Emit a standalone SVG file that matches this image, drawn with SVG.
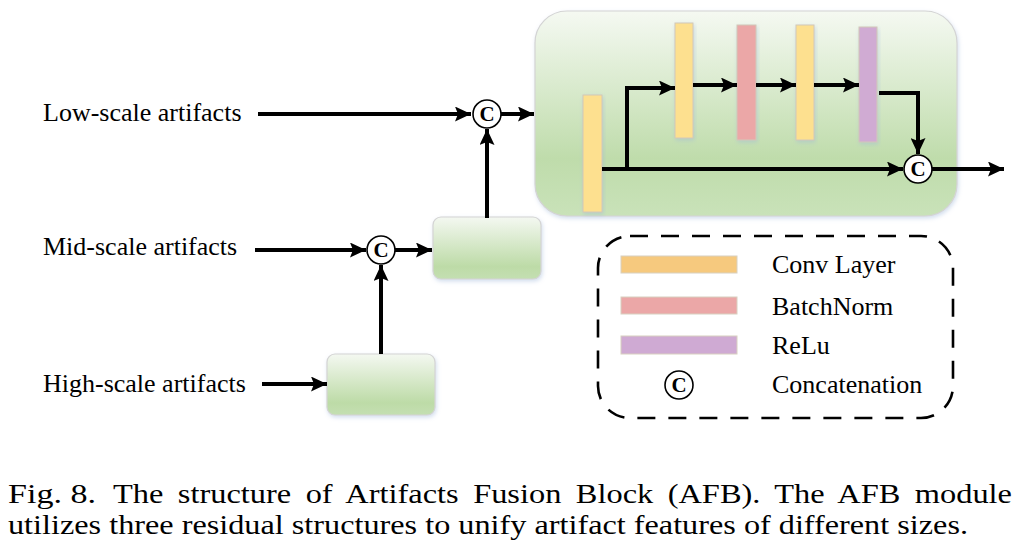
<svg xmlns="http://www.w3.org/2000/svg" width="1024" height="556" viewBox="0 0 1024 556">
<defs>
<linearGradient id="gBig" x1="0" y1="0" x2="0" y2="1">
<stop offset="0" stop-color="#f5f9f2"/>
<stop offset="0.72" stop-color="#bfdcab"/>
<stop offset="1" stop-color="#c9e2b9"/>
</linearGradient>
<linearGradient id="gSmall" x1="0" y1="0" x2="0" y2="1">
<stop offset="0" stop-color="#f4f8f1"/>
<stop offset="0.8" stop-color="#bddba7"/>
<stop offset="1" stop-color="#c4dfb2"/>
</linearGradient>
<filter id="sh" x="-20%" y="-20%" width="140%" height="140%">
<feDropShadow dx="1" dy="2" stdDeviation="2" flood-color="#9db6d9" flood-opacity="0.45"/>
</filter>
<marker id="ah" markerUnits="userSpaceOnUse" markerWidth="17" markerHeight="15" refX="16" refY="7.5" orient="auto">
<path d="M0,0 L16,7.5 L0,15 L3,7.5 Z" fill="#000"/>
</marker>
</defs>
<style>
.lbl{font-family:"Liberation Serif","Times New Roman",serif;font-size:26px;fill:#000}
.cap{font-family:"Liberation Serif","Times New Roman",serif;font-size:28px;fill:#000}
.ct{font-family:"Liberation Serif","Times New Roman",serif;font-size:21px;font-weight:bold;fill:#000;text-anchor:middle}
.cc{fill:#fff;stroke:#000;stroke-width:1.6}
.ln{fill:none;stroke:#000;stroke-width:4}
.box{stroke:#d4d4d4;stroke-width:1.2;filter:url(#sh)}
.bar{stroke:#d2c8b8;stroke-width:1;filter:url(#sh)}
.conv{fill:#fde08f}
.bn{fill:#eba7a7}
.relu{fill:#d0abd3}
</style>

<g id="afb-block">
<rect class="box" x="535" y="11" width="422" height="205" rx="32" fill="url(#gBig)"/>
</g>
<g id="conv-in"><rect class="bar conv" x="583" y="95" width="19" height="117"/></g>
<g id="conv-1"><rect class="bar conv" x="675" y="23" width="18" height="115"/></g>
<g id="bn-1"><rect class="bar bn" x="737" y="25" width="19" height="115"/></g>
<g id="conv-2"><rect class="bar conv" x="796" y="25" width="18" height="115"/></g>
<g id="relu-1"><rect class="bar relu" x="859" y="27" width="18" height="115"/></g>

<g id="mid-box"><rect class="box" x="433" y="217" width="108" height="62" rx="8" fill="url(#gSmall)"/></g>
<g id="high-box"><rect class="box" x="327" y="354" width="108" height="61" rx="8" fill="url(#gSmall)"/></g>

<g id="labels">
<text class="lbl" x="43" y="121">Low-scale artifacts</text>
<text class="lbl" x="43" y="255">Mid-scale artifacts</text>
<text class="lbl" x="43" y="392">High-scale artifacts</text>
</g>

<g id="connectors">
<path class="ln" d="M258,114 H471" marker-end="url(#ah)"/>
<path class="ln" d="M501,114 H534" marker-end="url(#ah)"/>
<path class="ln" d="M487,218 V129" marker-end="url(#ah)"/>
<path class="ln" d="M255,250 H366" marker-end="url(#ah)"/>
<path class="ln" d="M395,250 H432" marker-end="url(#ah)"/>
<path class="ln" d="M381,354 V265" marker-end="url(#ah)"/>
<path class="ln" d="M262,384 H327" marker-end="url(#ah)"/>
<path class="ln" d="M602,169 H903" marker-end="url(#ah)"/>
<path class="ln" d="M627,169 V88 H675" marker-end="url(#ah)"/>
<path class="ln" d="M693,85 H737" marker-end="url(#ah)"/>
<path class="ln" d="M756,85 H796" marker-end="url(#ah)"/>
<path class="ln" d="M814,85 H859" marker-end="url(#ah)"/>
<path class="ln" d="M879,93 H918 V154" marker-end="url(#ah)"/>
<path class="ln" d="M932,169 H1004" marker-end="url(#ah)"/>
</g>

<g id="concat-low"><circle class="cc" cx="487" cy="114" r="14"/><text class="ct" x="487" y="121">C</text></g>
<g id="concat-mid"><circle class="cc" cx="381" cy="250" r="14"/><text class="ct" x="381" y="257">C</text></g>
<g id="concat-out"><circle class="cc" cx="918" cy="169" r="14"/><text class="ct" x="918" y="176">C</text></g>

<g id="legend">
<rect x="598" y="236" width="355" height="182" rx="32" fill="none" stroke="#000" stroke-width="2.6" stroke-dasharray="18 13"/>
<rect x="621" y="256" width="116" height="17" fill="#f6c97e" stroke="#d8d0c0" stroke-width="1"/>
<rect x="621" y="297" width="116" height="17" fill="#eba7a7" stroke="#d8d0c0" stroke-width="1"/>
<rect x="621" y="336" width="116" height="18" fill="#cfaad3" stroke="#d8d0c0" stroke-width="1"/>
<circle class="cc" cx="679" cy="385" r="14"/><text class="ct" x="679" y="392">C</text>
<text class="lbl" x="772" y="273">Conv Layer</text>
<text class="lbl" x="772" y="315">BatchNorm</text>
<text class="lbl" x="772" y="354">ReLu</text>
<text class="lbl" x="772" y="393">Concatenation</text>
</g>

<g id="caption">
<text class="cap" x="8" y="503" textLength="88" lengthAdjust="spacingAndGlyphs">Fig. 8.</text>
<text class="cap" x="113" y="503" word-spacing="5.5" textLength="899" lengthAdjust="spacingAndGlyphs">The structure of Artifacts Fusion Block (AFB). The AFB module</text>
<text class="cap" x="8" y="534" textLength="960" lengthAdjust="spacingAndGlyphs">utilizes three residual structures to unify artifact features of different sizes.</text>
</g>
</svg>
